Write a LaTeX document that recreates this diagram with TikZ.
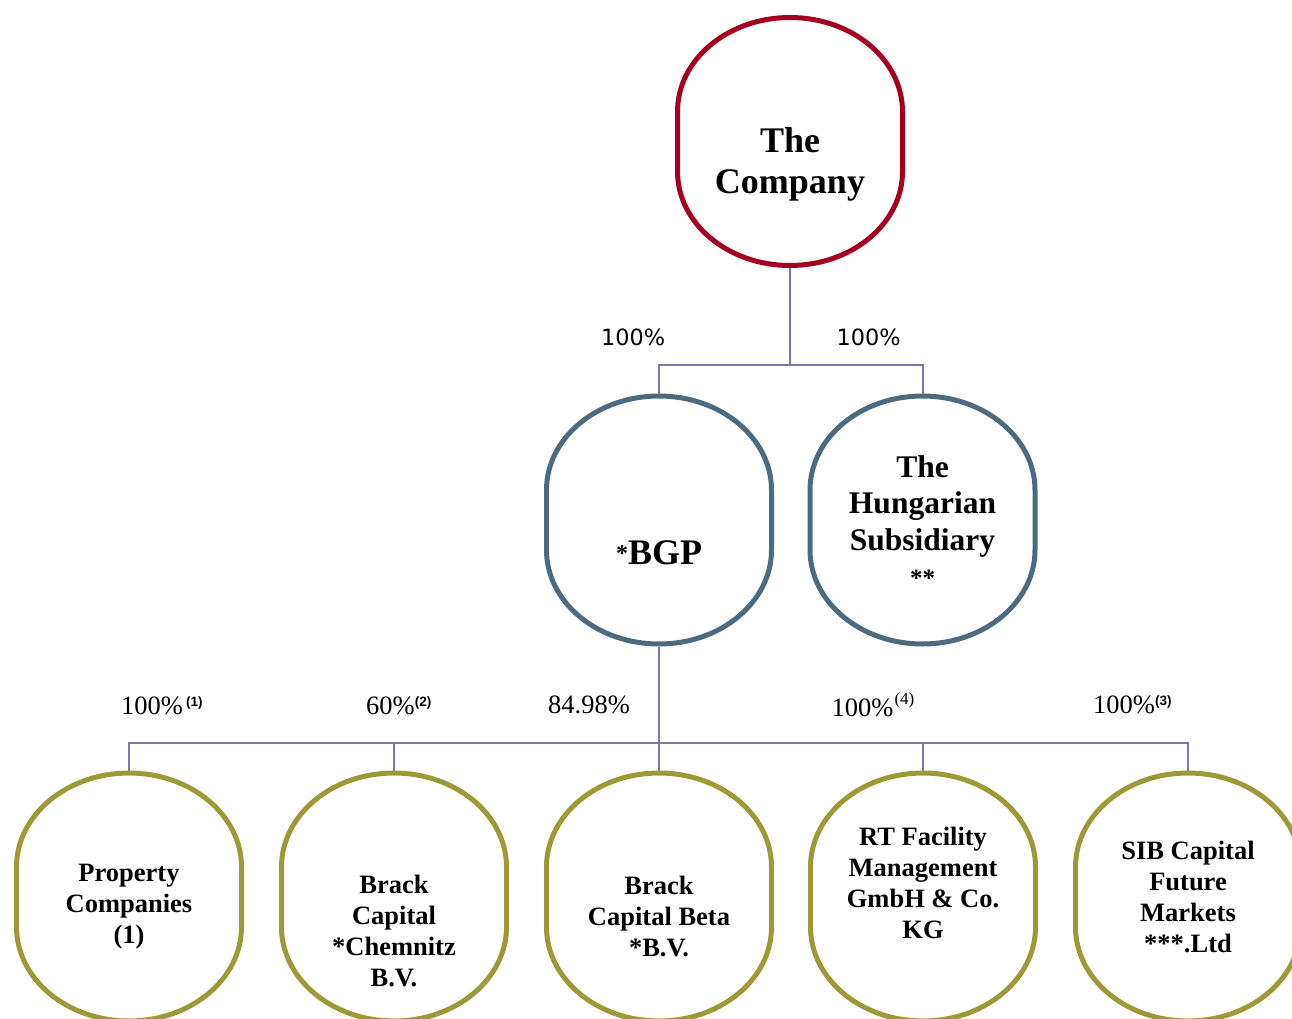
\documentclass[tikz,border=0pt]{standalone}
\usepackage{fontspec}
\setmainfont{Liberation Serif}
\newfontfamily\pctfont{DejaVu Sans}
\newfontfamily\notefont{Liberation Sans}
\definecolor{toprim}{RGB}{165,0,33}
\definecolor{midrim}{RGB}{77,107,128}
\definecolor{lowrim}{RGB}{156,154,54}
\definecolor{linkline}{RGB}{123,119,171}
% small bold footnote mark next to a share
\newcommand{\fnmark}[1]{\raisebox{7.5pt}{\notefont\bfseries\fontsize{13.5}{13.5}\selectfont(#1)}}
% oval outline with straight sides round a holding node
\newcommand{\rimoutline}[2]{%
  \draw[line width=5pt, draw=#2]
    ([shift={(112.5pt,30pt)}]#1.center) -- ([shift={(112.5pt,-30pt)}]#1.center)
    arc[start angle=0, end angle=-180, x radius=112.5pt, y radius=94pt]
    -- ([shift={(-112.5pt,30pt)}]#1.center)
    arc[start angle=180, end angle=0, x radius=112.5pt, y radius=94pt] -- cycle;}

\begin{document}
\begin{tikzpicture}[x=1pt, y=-1pt,
    rim/.style={minimum width=225pt, minimum height=248pt, inner sep=0pt, outer sep=2.5pt},
    toptext/.style={font=\bfseries\fontsize{36}{41}\selectfont, align=center},
    midtext/.style={font=\bfseries\fontsize{31.5}{36.5}\selectfont, align=center},
    lowtext/.style={font=\bfseries\fontsize{26.5}{31}\selectfont, align=center},
    pct/.style={font=\pctfont\fontsize{22.4}{22.4}\selectfont, inner sep=0pt, anchor=base west},
    share/.style={font=\fontsize{26.5}{26.5}\selectfont, inner sep=0pt, anchor=base west},
    link/.style={draw=linkline, line width=2pt}]
  \clip (0,0) rectangle (1292,1019);

  % Parent company
  \node[rim] (company) at (790,141.5) {};
  \rimoutline{company}{toprim}
  \node[toptext] (company-txt) at (790,164) {The\\Company};

  % First level holdings
  \node[rim] (bgp) at (659,520) {};
  \rimoutline{bgp}{midrim}
  \node[toptext] (bgp-txt) at (659,553) {\raisebox{3pt}{\fontsize{24}{24}\selectfont*}BGP};
  \node[rim] (hun) at (922.5,520) {};
  \rimoutline{hun}{midrim}
  \node[midtext] (hun-txt) at (922.5,521) {The\\Hungarian\\Subsidiary\\{\fontsize{25}{25}\selectfont**}};

  % Second level holdings under BGP
  \foreach \nm/\x/\ty/\txt in {prop/129/907/{Property\\Companies\\(1)},
                               chem/394/931/{Brack\\Capital\\*Chemnitz\\B.V.},
                               beta/659/916/{Brack\\Capital Beta\\*B.V.},
                               rtfm/923/883/{RT Facility\\Management\\GmbH \& Co.\\KG},
                               sib/1188/897/{SIB Capital\\Future\\Markets\\***.Ltd}}{
    \node[rim] (\nm) at (\x,897) {};
    \rimoutline{\nm}{lowrim}
    \node[lowtext] (\nm-txt) at (\x,\ty) {\txt};
  }

  % Connectors
  \coordinate (topbar) at (790,365);
  \coordinate (lowbar) at (659,743);
  \draw[link] (company.south) -- (topbar) -| (bgp.north);
  \draw[link] (topbar) -| (hun.north);
  \draw[link] (bgp.south) -- (lowbar);
  \foreach \nm in {prop,chem,beta,rtfm,sib}
    \draw[link] (lowbar) -| (\nm.north);

  % Shares
  \node[pct] (pct-bgp) at (601,345) {100\%};
  \node[pct] (pct-hun) at (836.5,345) {100\%};
  \node[share] (pct-prop) at (121,714) {100\%\kern3pt\fnmark{1}};
  \node[share] (pct-chem) at (366,714) {60\%\fnmark{2}};
  \node[share] (pct-beta) at (548,713) {84.98\%};
  \node[share] (pct-rtfm) at (831.5,716) {100\%\kern1pt\raisebox{12pt}{\fontsize{17}{17}\selectfont(4)}};
  \node[share] (pct-sib) at (1093,713) {100\%\fnmark{3}};
\end{tikzpicture}
\end{document}
